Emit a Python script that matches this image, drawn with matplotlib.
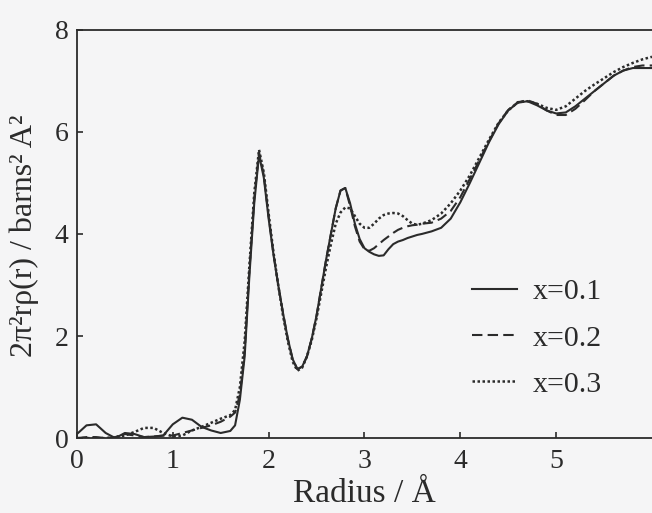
import matplotlib
matplotlib.use("Agg")
import matplotlib.pyplot as plt

# radius grid (Å)
r = [0.0, 0.1, 0.2, 0.3, 0.4, 0.5, 0.6, 0.7, 0.8, 0.9, 1.0, 1.1, 1.2, 1.3, 1.4, 1.5, 1.6,
     1.65, 1.7, 1.75, 1.8, 1.85, 1.9, 1.95, 2.0, 2.05, 2.1, 2.15, 2.2, 2.25, 2.3, 2.35,
     2.4, 2.45, 2.5, 2.55, 2.6, 2.65, 2.7, 2.75, 2.8, 2.85, 2.9, 2.95, 3.0, 3.05, 3.1,
     3.15, 3.2, 3.25, 3.3, 3.35, 3.4, 3.45, 3.5, 3.55, 3.6,
     3.7, 3.8, 3.9, 4.0, 4.1, 4.2, 4.3, 4.4, 4.5, 4.6, 4.7, 4.8, 4.9, 5.0, 5.1, 5.2,
     5.3, 5.4, 5.5, 5.6, 5.7, 5.8, 5.9, 6.0]

g_x01 = [0.08, 0.25, 0.27, 0.10, 0.00, 0.10, 0.08, 0.02, 0.03, 0.05, 0.27, 0.40, 0.36, 0.22, 0.15, 0.10, 0.14,
         0.25, 0.75, 1.60, 3.20, 4.60, 5.55, 5.10, 4.30, 3.60, 3.00, 2.45, 1.95, 1.55, 1.35, 1.40,
         1.60, 1.95, 2.40, 2.95, 3.50, 4.00, 4.50, 4.85, 4.90, 4.60, 4.20, 3.90, 3.72, 3.65, 3.60,
         3.57, 3.58, 3.70, 3.80, 3.85, 3.88, 3.92, 3.95, 3.98, 4.00,
         4.05, 4.12, 4.30, 4.62, 5.00, 5.40, 5.80, 6.15, 6.42, 6.57, 6.60, 6.52, 6.42, 6.36, 6.38, 6.50,
         6.65, 6.80, 6.95, 7.10, 7.20, 7.25, 7.25, 7.25]

g_x02 = [0.00, 0.02, 0.02, 0.00, 0.02, 0.08, 0.05, 0.02, 0.03, 0.05, 0.05, 0.10, 0.15, 0.20, 0.25, 0.32, 0.42,
         0.50, 0.85, 1.70, 3.30, 4.70, 5.60, 5.15, 4.35, 3.62, 3.00, 2.45, 1.95, 1.55, 1.35, 1.40,
         1.60, 1.95, 2.40, 2.95, 3.50, 4.00, 4.50, 4.85, 4.90, 4.55, 4.15, 3.85, 3.70, 3.67, 3.72,
         3.80, 3.88, 3.95, 4.02, 4.08, 4.12, 4.15, 4.17, 4.18, 4.20,
         4.22, 4.30, 4.45, 4.72, 5.08, 5.45, 5.82, 6.17, 6.43, 6.58, 6.62, 6.55, 6.42, 6.33, 6.33, 6.45,
         6.62, 6.80, 6.95, 7.10, 7.20, 7.27, 7.30, 7.30]

g_x03 = [0.00, 0.00, 0.00, 0.00, 0.02, 0.05, 0.12, 0.20, 0.20, 0.10, 0.03, 0.05, 0.15, 0.22, 0.30, 0.38, 0.45,
         0.55, 1.00, 1.90, 3.40, 4.80, 5.65, 5.20, 4.40, 3.65, 3.00, 2.40, 1.90, 1.50, 1.32, 1.38,
         1.60, 1.92, 2.35, 2.85, 3.35, 3.80, 4.20, 4.42, 4.52, 4.50, 4.35, 4.20, 4.12, 4.12, 4.20,
         4.30, 4.37, 4.40, 4.41, 4.40, 4.35, 4.27, 4.20, 4.18, 4.20,
         4.27, 4.40, 4.60, 4.85, 5.15, 5.50, 5.85, 6.18, 6.42, 6.58, 6.60, 6.55, 6.47, 6.43, 6.50, 6.65,
         6.80, 6.93, 7.05, 7.17, 7.27, 7.35, 7.42, 7.47]

labels = ["x=0.1", "x=0.2", "x=0.3"]

plt.rcParams["font.family"] = ["Liberation Serif", "DejaVu Serif"]
ink = "#2b2b2b"
bg = "#f5f5f6"

fig = plt.figure(figsize=(6.52, 5.13), dpi=100, facecolor=bg)
ax = fig.add_axes([0.118, 0.146, 0.882, 0.796], facecolor=bg)

ax.plot(r, g_x01, color=ink, lw=1.5, linestyle="-", label=labels[0])
ax.plot(r, g_x02, color=ink, lw=1.5, linestyle=(0, (5, 2.5)), label=labels[1])
ax.plot(r, g_x03, color=ink, lw=1.8, linestyle=(0, (1, 1)), label=labels[2])

ax.set_xlim(0, 6)
ax.set_ylim(0, 8)
ax.set_xticks([0, 1, 2, 3, 4, 5])
ax.set_yticks([0, 2, 4, 6, 8])
ax.tick_params(direction="in", length=4, width=1.2, color=ink, labelcolor=ink, labelsize=20)
ax.tick_params(axis="x", pad=8)
ax.tick_params(axis="y", pad=6)
for s in ["left", "bottom", "top"]:
    ax.spines[s].set_color(ink)
    ax.spines[s].set_linewidth(1.3)
ax.spines["right"].set_visible(False)

ax.set_xlabel("Radius / Å", fontsize=24, color=ink)
ax.set_ylabel("2π²rρ(r) / barns² A²", fontsize=23, color=ink)
ax.xaxis.set_label_coords(0.5, -0.098)
ax.yaxis.set_label_coords(-0.066, 0.495)

ax.legend(loc="center left", bbox_to_anchor=(0.666, 0.245), frameon=False, fontsize=21.5,
          handlelength=1.5, handletextpad=0.55, labelspacing=0.65, borderaxespad=0,
          labelcolor=ink)

fig.savefig("out.png", dpi=100, facecolor=bg)
